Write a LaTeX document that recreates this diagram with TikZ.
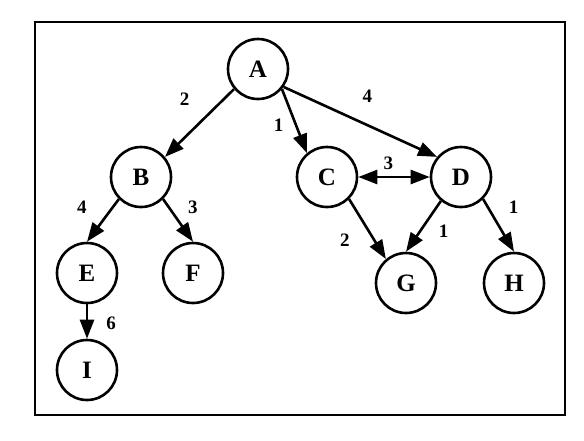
\documentclass[tikz,border=0pt]{standalone}
\usepackage{fontspec}
\setmainfont{Liberation Serif}
\usetikzlibrary{arrows.meta}

\begin{document}
\begin{tikzpicture}[x=1pt,y=-1pt,
    vertex/.style={draw,circle,line width=2.6pt,minimum size=60pt,inner sep=0pt,
                   font=\fontsize{25}{28}\selectfont\bfseries},
    edge/.style={line width=2.6pt,-{Triangle[length=19pt,width=14pt]}},
    wt/.style={font=\fontsize{19}{21}\selectfont\bfseries,inner sep=0pt}]
\useasboundingbox (0,0) rectangle (584,440);
\draw[line width=1.8pt] (35,22) rectangle (565,415);

\node[vertex] (A) at (258,69) {A};
\node[vertex] (B) at (141,177) {B};
\node[vertex] (C) at (327,177) {C};
\node[vertex] (D) at (461,177) {D};
\node[vertex] (E) at (87,273) {E};
\node[vertex] (F) at (193,273) {F};
\node[vertex] (G) at (406,283) {G};
\node[vertex] (H) at (514,283) {H};
\node[vertex] (I) at (87,370) {I};

\draw[edge] (A.-140) -- node[wt,pos=.44,xshift=-19pt,yshift=20pt] {2} (B.40);
\draw[edge] (A.-40) -- node[wt,pos=.47,xshift=-15pt,yshift=-6pt] {1} (C.130);
\draw[edge] (A.-35) -- node[wt,pos=.48,xshift=10pt,yshift=24pt] {4} (D.140);
\draw[edge,{Triangle[length=19pt,width=14pt]}-{Triangle[length=19pt,width=14pt]}]
    (C) -- node[wt,pos=.42,yshift=14pt] {3} (D);
\draw[edge] (B.-135) -- node[wt,pos=.53,xshift=-20pt,yshift=14pt] {4} (E.north);
\draw[edge] (B.-45) -- node[wt,pos=.46,xshift=16pt,yshift=11pt] {3} (F.north);
\draw[edge] (E) -- node[wt,pos=.54,xshift=24pt] {6} (I);
\draw[edge] (C.-45) -- node[wt,pos=.48,xshift=-22pt,yshift=-12pt] {2} (G.130);
\draw[edge] (D.-130) -- node[wt,pos=.38,xshift=16pt,yshift=-11pt] {1} (G.north);
\draw[edge] (D.-45) -- node[wt,pos=.37,xshift=19pt,yshift=11pt] {1} (H.north);
\end{tikzpicture}
\end{document}
